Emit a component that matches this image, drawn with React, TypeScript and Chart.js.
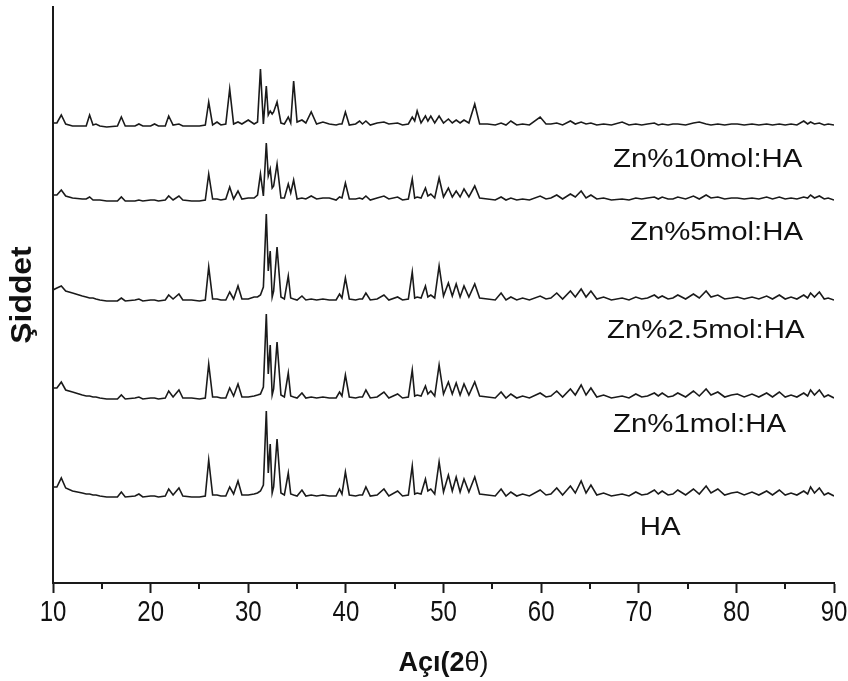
import React, { useEffect, useRef } from "react";
import { Chart, registerables } from "chart.js";

Chart.register(...registerables);

// 2θ positions of the polyline vertices (shared by all patterns)
const angles = [
  10.0, 10.4, 10.85, 11.3, 12.0, 13.0, 13.4, 13.75, 14.1, 14.4, 14.8, 15.5,
  16.6, 17.0, 17.4, 18.4, 18.8, 19.2, 20.0, 20.4, 20.8, 21.5, 21.85, 22.3, 22.9, 23.3, 24.2,
  25.0, 25.6, 25.95, 26.35, 26.8, 27.2, 27.7, 28.1, 28.5, 28.95, 29.35, 30.0, 30.6, 30.95, 31.25, 31.55,
  31.85, 32.05, 32.25, 32.45, 32.6, 32.95, 33.35, 33.7, 34.1, 34.35, 34.65, 35.0, 35.5, 35.9,
  36.45, 37.0, 37.65, 38.3, 39.0, 39.35, 39.6, 39.95, 40.35, 41.0, 41.4, 41.7, 42.05, 42.5, 43.2, 43.9, 44.4, 45.3, 45.8,
  46.4, 46.8, 47.05, 47.3, 47.7, 48.15, 48.4, 48.7, 49.1, 49.55, 50.0, 50.5, 50.9, 51.3, 51.7, 52.1, 52.6, 53.2, 53.7,
  54.5, 55.3, 55.9, 56.4, 56.9, 57.5, 58.1, 58.8, 59.9, 60.5, 61.0, 61.6, 62.2, 63.0, 63.5,
  64.1, 64.6, 65.1, 65.7, 66.4, 67.2, 68.3, 69.0, 69.7, 70.3, 70.9, 71.6, 72.0, 72.4, 73.0,
  73.5, 74.0, 74.8, 75.6, 76.2, 76.9, 77.4, 78.1, 78.8, 79.5, 80.1, 80.8, 81.6, 82.3, 83.1,
  83.7, 84.4, 85.0, 85.6, 86.2, 86.9, 87.3, 87.6, 88.0, 88.5, 89.0, 89.4, 90.0,
];

// intensities (relative to each pattern's own baseline)
const haValues = [
  10, 10, 19, 9, 6, 4, 3, 3, 2, 2, 1, 0,
  0, 5, 0, 1, 3, 0, 1, 1, 0, 1, 8, 2, 9, 1, 0,
  0, 1, 37, 2, 2, 1, 1, 10, 3, 16, 2, 2, 3, 4, 6, 12,
  86, 24, 53, 4, 10, 58, 4, 2, 24, 3, 2, 1, 7, 1,
  2, 1, 2, 1, 1, 8, 3, 25, 2, 1, 2, 2, 10, 1, 2, 8, 1, 6, 1,
  2, 31, 3, 4, 3, 18, 6, 8, 3, 35, 5, 22, 6, 20, 5, 18, 5, 20, 3,
  2, 1, 8, 1, 5, 1, 3, 1, 7, 2, 3, 9, 2, 11, 4,
  16, 4, 12, 2, 4, 1, 3, 1, 5, 2, 3, 7, 3, 6, 2,
  3, 7, 2, 8, 3, 11, 4, 8, 2, 4, 5, 2, 5, 2, 6,
  2, 7, 2, 4, 2, 6, 3, 10, 4, 9, 2, 4, 1,
];

const zn1Values = [
  11, 11, 17, 9, 7, 4, 3, 3, 2, 2, 1, 0,
  0, 4, 0, 1, 2, 0, 1, 1, 0, 1, 8, 2, 9, 1, 1,
  0, 1, 35, 2, 2, 1, 1, 11, 3, 15, 2, 2, 3, 4, 5, 12,
  85, 25, 54, 4, 10, 57, 4, 2, 26, 3, 2, 1, 6, 1,
  2, 1, 2, 1, 1, 7, 3, 24, 2, 1, 2, 2, 9, 1, 2, 7, 1, 5, 1,
  2, 29, 3, 4, 3, 13, 5, 8, 3, 34, 5, 17, 5, 16, 4, 15, 4, 17, 3,
  2, 1, 7, 1, 5, 1, 3, 1, 6, 2, 3, 8, 2, 10, 4,
  14, 4, 11, 2, 4, 1, 3, 1, 5, 2, 3, 6, 3, 6, 2,
  3, 6, 2, 8, 3, 10, 4, 7, 2, 4, 5, 2, 5, 2, 6,
  2, 7, 2, 4, 2, 6, 3, 9, 4, 9, 2, 4, 1,
];

const zn25Values = [
  11, 13, 15, 10, 8, 5, 4, 3, 3, 2, 1, 0,
  0, 3, 0, 1, 2, 0, 1, 1, 0, 1, 6, 2, 7, 1, 1,
  0, 1, 34, 2, 2, 1, 1, 9, 2, 15, 2, 2, 4, 4, 6, 14,
  87, 30, 50, 4, 10, 54, 4, 2, 25, 3, 2, 1, 5, 1,
  2, 1, 2, 1, 1, 7, 3, 23, 2, 1, 2, 2, 8, 1, 2, 6, 1, 4, 1,
  2, 29, 3, 4, 3, 15, 4, 6, 3, 35, 5, 18, 5, 17, 4, 15, 4, 17, 3,
  2, 1, 8, 1, 4, 1, 3, 1, 5, 2, 3, 8, 2, 10, 4,
  12, 4, 10, 2, 4, 1, 3, 1, 4, 2, 3, 6, 3, 5, 2,
  3, 6, 2, 7, 3, 10, 4, 6, 2, 3, 4, 2, 4, 2, 5,
  2, 6, 2, 4, 2, 6, 3, 8, 4, 9, 2, 3, 1,
];

const zn5Values = [
  6, 6, 11, 5, 3, 2, 2, 4, 1, 1, 1, 0,
  0, 4, 0, 0, 1, 0, 1, 1, 0, 1, 5, 1, 5, 1, 0,
  0, 1, 27, 2, 2, 1, 2, 14, 2, 10, 2, 3, 3, 6, 27, 5,
  58, 25, 32, 13, 15, 37, 3, 3, 17, 8, 21, 2, 3, 2,
  5, 2, 3, 3, 1, 4, 3, 18, 2, 2, 3, 2, 5, 1, 3, 5, 2, 4, 1,
  2, 22, 3, 4, 3, 13, 5, 7, 3, 23, 4, 13, 4, 10, 4, 12, 4, 15, 3,
  2, 1, 4, 1, 3, 1, 2, 1, 5, 2, 3, 6, 2, 7, 4,
  10, 3, 6, 2, 3, 1, 2, 1, 3, 2, 3, 4, 2, 4, 2,
  2, 4, 2, 5, 2, 6, 3, 4, 2, 3, 3, 2, 3, 2, 4,
  2, 4, 2, 3, 2, 4, 3, 6, 3, 5, 2, 3, 1,
];

const zn10Values = [
  4, 4, 12, 3, 1, 1, 1, 12, 2, 3, 1, 0,
  1, 10, 1, 1, 3, 1, 1, 3, 1, 1, 11, 2, 3, 1, 1,
  1, 2, 25, 2, 5, 2, 3, 38, 3, 5, 3, 7, 3, 5, 58, 3,
  41, 12, 16, 13, 15, 25, 4, 3, 10, 4, 46, 5, 7, 4,
  15, 3, 5, 3, 2, 3, 3, 15, 2, 3, 6, 3, 6, 2, 4, 5, 3, 4, 2,
  3, 10, 6, 16, 4, 11, 6, 11, 4, 11, 4, 8, 4, 7, 4, 7, 4, 23, 3,
  3, 2, 4, 2, 6, 2, 3, 2, 10, 3, 3, 4, 2, 6, 3,
  5, 3, 4, 2, 3, 2, 5, 2, 3, 2, 3, 4, 2, 3, 2,
  3, 3, 2, 4, 5, 3, 2, 3, 2, 3, 3, 2, 3, 2, 3,
  2, 3, 2, 3, 2, 6, 3, 5, 3, 4, 2, 3, 2,
];

const seriesNames = ["HA", "Zn%1mol:HA", "Zn%2.5mol:HA", "Zn%5mol:HA", "Zn%10mol:HA"];
const seriesValues = [haValues, zn1Values, zn25Values, zn5Values, zn10Values];
const seriesOffsets = [86, 184, 282, 382, 456];

// label anchors (left edge angle, baseline level)
const labelAngles = [70.1, 67.36, 66.75, 69.1, 67.36];
const labelLevels = [48, 151, 245, 343, 416];

const xTickValues = [10, 15, 20, 25, 30, 35, 40, 45, 50, 55, 60, 65, 70, 75, 80, 85, 90];
const xTickLabels = ["10", "", "20", "", "30", "", "40", "", "50", "", "60", "", "70", "", "80", "", "90"];
const xMin = 10;
const xMax = 90;
const yMin = 0;
const yMax = 576;

const yTitle = "Şiddet";
const xTitleBold = "Açı(2";
const xTitleRegular = "θ)";

const SANS = "'Liberation Sans', Arial, Helvetica, sans-serif";

const textPlugin = {
  id: "xrdTexts",
  afterDraw(chart: any) {
    const { ctx, chartArea } = chart;
    const x = chart.scales.x;
    const y = chart.scales.y;
    ctx.save();
    // minor ticks
    ctx.strokeStyle = "#1a1a1a";
    ctx.lineWidth = 2;
    xTickValues.forEach((v, i) => {
      if (xTickLabels[i] !== "") return;
      const px = Math.round(x.getPixelForValue(v));
      ctx.beginPath();
      ctx.moveTo(px, chartArea.bottom);
      ctx.lineTo(px, chartArea.bottom + 6);
      ctx.stroke();
    });
    // tick labels (condensed)
    ctx.fillStyle = "#111";
    ctx.font = `30px ${SANS}`;
    ctx.textAlign = "center";
    ctx.textBaseline = "alphabetic";
    xTickValues.forEach((v, i) => {
      if (xTickLabels[i] === "") return;
      const px = x.getPixelForValue(v);
      ctx.save();
      ctx.translate(px, chartArea.bottom + 38);
      ctx.scale(0.8, 1);
      ctx.fillText(xTickLabels[i], 0, 0);
      ctx.restore();
    });
    // series labels
    ctx.font = `26px ${SANS}`;
    ctx.textAlign = "left";
    seriesNames.forEach((name, i) => {
      const px = x.getPixelForValue(labelAngles[i]);
      const py = y.getPixelForValue(labelLevels[i]);
      ctx.save();
      ctx.translate(px, py);
      ctx.scale(1.13, 1);
      ctx.fillText(name, 0, 0);
      ctx.restore();
    });
    // y title
    ctx.save();
    ctx.translate(23, (chartArea.top + chartArea.bottom) / 2);
    ctx.rotate(-Math.PI / 2);
    ctx.scale(1.1, 1);
    ctx.font = `bold 29px ${SANS}`;
    ctx.textAlign = "center";
    ctx.textBaseline = "middle";
    ctx.fillText(yTitle, 0, 0);
    ctx.restore();
    // x title
    const boldFont = `bold 27px ${SANS}`;
    const regFont = `27px ${SANS}`;
    ctx.font = boldFont;
    const w1 = ctx.measureText(xTitleBold).width;
    ctx.font = regFont;
    const w2 = ctx.measureText(xTitleRegular).width;
    const cx = (chartArea.left + chartArea.right) / 2;
    const startX = cx - (w1 + w2) / 2;
    const base = 671;
    ctx.textAlign = "left";
    ctx.textBaseline = "alphabetic";
    ctx.font = boldFont;
    ctx.fillText(xTitleBold, startX, base);
    ctx.font = regFont;
    ctx.fillText(xTitleRegular, startX + w1, base);
    ctx.restore();
  },
};

export default function App() {
  const canvasRef = useRef<HTMLCanvasElement | null>(null);

  useEffect(() => {
    const canvas = canvasRef.current;
    if (!canvas) return;
    const n = Math.min(angles.length, ...seriesValues.map((s) => s.length));
    const datasets = seriesValues.map((vals, si) => ({
      label: seriesNames[si],
      data: angles.slice(0, n).map((a, i) => ({ x: a, y: vals[i] + seriesOffsets[si] })),
      showLine: true,
      borderColor: "#1a1a1a",
      borderWidth: 1.6,
      pointRadius: 0,
      tension: 0,
      fill: false,
    }));
    const chart = new Chart(canvas, {
      type: "scatter",
      data: { datasets },
      options: {
        animation: false,
        responsive: false,
        events: [],
        layout: { padding: { top: 7, right: 14, left: 0, bottom: 0 } },
        plugins: { legend: { display: false }, tooltip: { enabled: false }, title: { display: false } },
        scales: {
          x: {
            type: "linear",
            min: xMin,
            max: xMax,
            afterBuildTicks: (scale: any) => {
              scale.ticks = xTickValues.map((v) => ({ value: v }));
            },
            afterFit: (scale: any) => {
              scale.height = 98;
            },
            border: { display: true, color: "#1a1a1a", width: 2 },
            grid: {
              display: true,
              drawOnChartArea: false,
              drawTicks: true,
              tickLength: 10,
              tickWidth: 2,
              tickColor: (c: any) => {
                const idx = xTickValues.indexOf(c.tick ? c.tick.value : NaN);
                return idx >= 0 && xTickLabels[idx] !== "" ? "#1a1a1a" : "rgba(0,0,0,0)";
              },
            },
            ticks: {
              autoSkip: false,
              maxRotation: 0,
              minRotation: 0,
              color: "rgba(0,0,0,0)",
              font: { family: SANS, size: 12 },
              callback: () => "",
            },
          },
          y: {
            type: "linear",
            min: yMin,
            max: yMax,
            afterFit: (scale: any) => {
              scale.width = 53;
            },
            border: { display: true, color: "#1a1a1a", width: 2 },
            grid: { display: false },
            ticks: { display: false },
          },
        },
      },
      plugins: [textPlugin],
    });
    return () => chart.destroy();
  }, []);

  return (
    <div style={{ position: "absolute", left: 0, top: 0, width: 848, height: 681, background: "#fff" }}>
      <canvas ref={canvasRef} width={848} height={681} style={{ display: "block" }} />
    </div>
  );
}
